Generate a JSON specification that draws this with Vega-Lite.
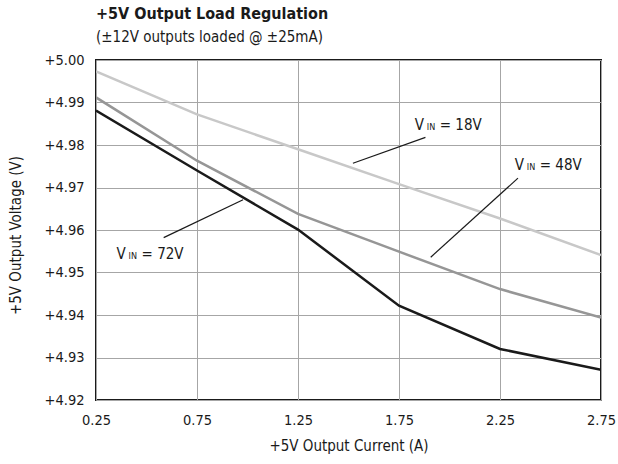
{
  "$schema": "https://vega.github.io/schema/vega-lite/v6.json",
  "width": 505,
  "height": 340,
  "autosize": {"type": "none"},
  "padding": {"left": 96, "top": 60, "right": 17, "bottom": 64},
  "background": "white",
  "config": {
    "font": "DejaVu Sans Condensed, sans-serif",
    "view": {"stroke": "#1a1a1a", "strokeWidth": 2},
    "axis": {"labelFont": "DejaVu Sans Condensed, sans-serif", "titleFont": "DejaVu Sans Condensed, sans-serif", "labelFontSize": 14.5, "titleFontSize": 15, "titleFontWeight": "normal", "labelColor": "#1a1a1a", "titleColor": "#1a1a1a", "gridColor": "#a6a6a6", "gridWidth": 1, "domain": false, "ticks": false, "labelFlush": false}
  },
  "title": {
    "text": "+5V Output Load Regulation",
    "subtitle": "(±12V outputs loaded @ ±25mA)",
    "anchor": "start",
    "frame": "group",
    "offset": 7,
    "font": "DejaVu Sans Condensed, sans-serif",
    "fontSize": 16,
    "fontWeight": "bold",
    "color": "#1a1a1a",
    "subtitleFont": "DejaVu Sans Condensed, sans-serif",
    "subtitleFontSize": 15,
    "subtitleColor": "#1a1a1a",
    "subtitlePadding": 8
  },
  "datasets": {
    "curves": [
      {"series": "18V", "current": 0.25, "voltage": 4.9973},
      {"series": "18V", "current": 0.75, "voltage": 4.9872},
      {"series": "18V", "current": 1.25, "voltage": 4.9790},
      {"series": "18V", "current": 1.75, "voltage": 4.9708},
      {"series": "18V", "current": 2.25, "voltage": 4.9627},
      {"series": "18V", "current": 2.75, "voltage": 4.9541},
      {"series": "48V", "current": 0.25, "voltage": 4.9912},
      {"series": "48V", "current": 0.75, "voltage": 4.9763},
      {"series": "48V", "current": 1.25, "voltage": 4.9638},
      {"series": "48V", "current": 1.75, "voltage": 4.9549},
      {"series": "48V", "current": 2.25, "voltage": 4.9461},
      {"series": "48V", "current": 2.75, "voltage": 4.9394},
      {"series": "72V", "current": 0.25, "voltage": 4.9881},
      {"series": "72V", "current": 0.75, "voltage": 4.9740},
      {"series": "72V", "current": 1.25, "voltage": 4.9601},
      {"series": "72V", "current": 1.75, "voltage": 4.9422},
      {"series": "72V", "current": 2.25, "voltage": 4.9320},
      {"series": "72V", "current": 2.75, "voltage": 4.9271}
    ],
    "labels": [
      {"series": "18V", "lx": 1.828, "ly": 4.9848, "rest": "= 18V", "x1": 1.881, "y1": 4.9818, "x2": 1.522, "y2": 4.9757},
      {"series": "48V", "lx": 2.323, "ly": 4.9753, "rest": "= 48V", "x1": 2.339, "y1": 4.9722, "x2": 1.907, "y2": 4.9536},
      {"series": "72V", "lx": 0.352, "ly": 4.9543, "rest": "= 72V", "x1": 0.585, "y1": 4.9582, "x2": 0.978, "y2": 4.9671}
    ]
  },
  "layer": [
    {
      "data": {"name": "curves"},
      "mark": {"type": "line", "strokeWidth": 2.5, "clip": true},
      "encoding": {
        "x": {"field": "current", "type": "quantitative", "scale": {"domain": [0.25, 2.75], "nice": false, "zero": false},
              "axis": {"values": [0.25, 0.75, 1.25, 1.75, 2.25, 2.75], "format": ".2f", "title": "+5V Output Current (A)", "labelPadding": 13, "titlePadding": 12}},
        "y": {"field": "voltage", "type": "quantitative", "scale": {"domain": [4.92, 5.0], "nice": false, "zero": false},
              "axis": {"values": [4.92, 4.93, 4.94, 4.95, 4.96, 4.97, 4.98, 4.99, 5.0], "labelExpr": "'+' + format(datum.value, '.2f')", "title": "+5V Output Voltage (V)", "labelPadding": 12, "titleX": -73, "titleY": 175}},
        "color": {"field": "series", "type": "nominal", "scale": {"domain": ["18V", "48V", "72V"], "range": ["#c8c8c8", "#969696", "#1a1a1a"]}, "legend": null}
      }
    },
    {
      "data": {"name": "labels"},
      "mark": {"type": "rule", "stroke": "#1a1a1a", "strokeWidth": 1.2},
      "encoding": {
        "x": {"field": "x1", "type": "quantitative"},
        "y": {"field": "y1", "type": "quantitative"},
        "x2": {"field": "x2"},
        "y2": {"field": "y2"}
      }
    },
    {
      "data": {"name": "labels"},
      "mark": {"type": "text", "text": "V", "align": "left", "baseline": "middle", "fontSize": 15, "color": "#1a1a1a"},
      "encoding": {
        "x": {"field": "lx", "type": "quantitative"},
        "y": {"field": "ly", "type": "quantitative"}
      }
    },
    {
      "data": {"name": "labels"},
      "mark": {"type": "text", "text": "IN", "align": "left", "baseline": "middle", "fontSize": 9, "dx": 12, "dy": 2, "color": "#1a1a1a"},
      "encoding": {
        "x": {"field": "lx", "type": "quantitative"},
        "y": {"field": "ly", "type": "quantitative"}
      }
    },
    {
      "data": {"name": "labels"},
      "mark": {"type": "text", "align": "left", "baseline": "middle", "fontSize": 15, "dx": 25, "color": "#1a1a1a"},
      "encoding": {
        "x": {"field": "lx", "type": "quantitative"},
        "y": {"field": "ly", "type": "quantitative"},
        "text": {"field": "rest"}
      }
    }
  ]
}
